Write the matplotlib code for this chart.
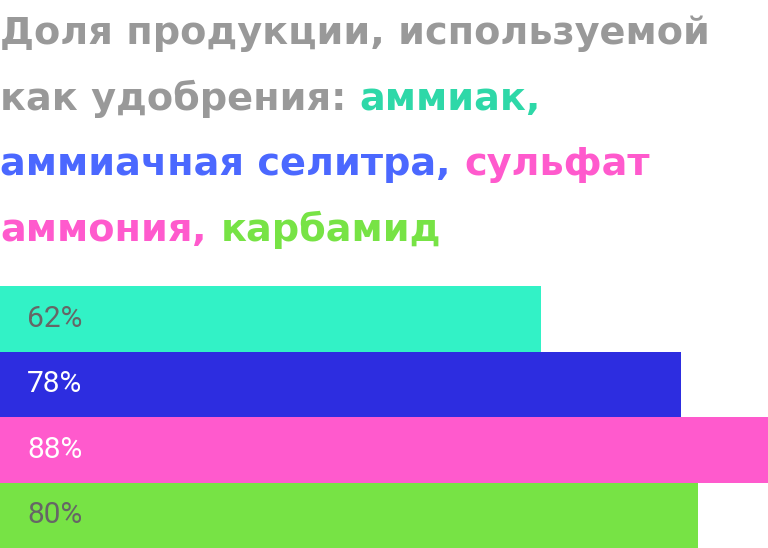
import matplotlib

matplotlib.use("Agg")
import matplotlib.pyplot as plt

categories = ["аммиак", "аммиачная селитра", "сульфат аммония", "карбамид"]
values = [62, 78, 88, 80]
value_labels = ["62%", "78%", "88%", "80%"]

bar_colors = ["#32F2C6", "#2D2DE0", "#FF5ACD", "#77E345"]
text_colors = ["#2ED8A8", "#4B68FF", "#FF5ACD", "#77E345"]
label_colors = ["#666666", "#ffffff", "#ffffff", "#666666"]
gray = "#999999"

W, H = 768, 548
fig = plt.figure(figsize=(W / 100, H / 100), dpi=100)
fig.patch.set_facecolor("white")

# Столбцы занимают нижнюю часть рисунка
ax = fig.add_axes([0, 0, 1, 262 / H])
ypos = list(range(len(values)))
ax.barh(ypos, values, height=1.0, color=bar_colors, edgecolor="none")
ax.set_xlim(0, max(values))
ax.set_ylim(len(values) - 0.5, -0.5)
ax.axis("off")
for i, lab in enumerate(value_labels):
    ax.text(3.1, i, lab, color=label_colors[i], fontsize=21.5, family="Roboto",
            ha="left", va="center")

# Заголовок с цветными словами
lines = [
    [("Доля продукции, используемой", gray)],
    [("как удобрения: ", gray), (categories[0] + ",", text_colors[0])],
    [(categories[1], text_colors[1]), (", ", text_colors[1]), ("сульфат", text_colors[2])],
    [("аммония", text_colors[2]), (", ", text_colors[2]), (categories[3], text_colors[3])],
]
baselines = [44, 110, 175, 241]

renderer = fig.canvas.get_renderer()
for parts, base in zip(lines, baselines):
    x = 0.0
    for s, c in parts:
        t = fig.text(x / W, 1 - base / H, s, color=c, fontsize=27.5, family="DejaVu Sans",
                     fontweight="bold", ha="left", va="baseline")
        x += t.get_window_extent(renderer).width

fig.savefig("out.png", dpi=100, facecolor="white")
